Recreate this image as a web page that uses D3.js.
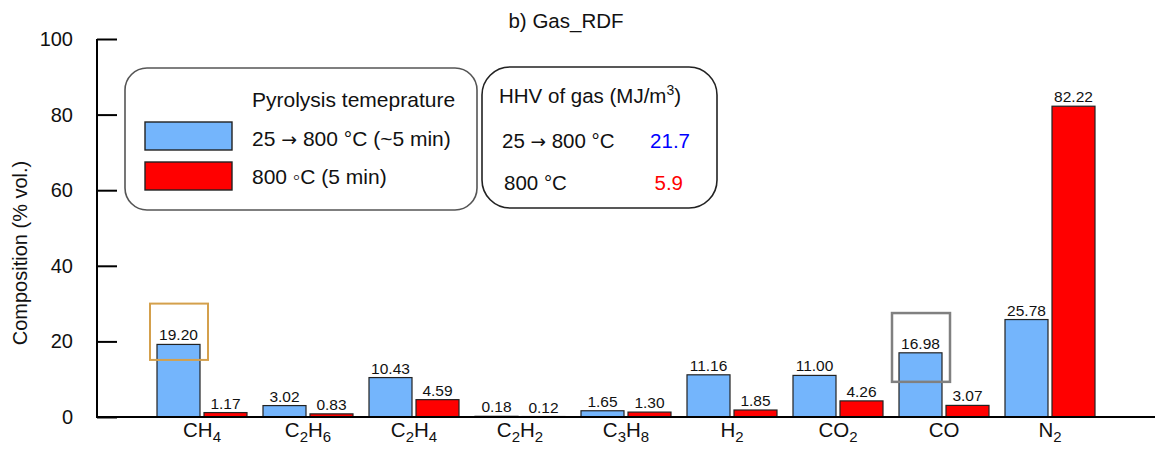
<!DOCTYPE html>
<html>
<head>
<meta charset="utf-8">
<script src="https://cdn.jsdelivr.net/npm/d3@7"></script>
<style>
  html, body { margin: 0; padding: 0; background: #fff; }
  svg { display: block; font-family: "Liberation Sans", Arial, sans-serif; }
</style>
</head>
<body>
<svg id="chart" width="1155" height="453"></svg>
<script>
// ---- data ----
const categories = ["CH4", "C2H6", "C2H4", "C2H2", "C3H8", "H2", "CO2", "CO", "N2"];
const categoryLabels = [
  [["CH", false], ["4", true]],
  [["C", false], ["2", true], ["H", false], ["6", true]],
  [["C", false], ["2", true], ["H", false], ["4", true]],
  [["C", false], ["2", true], ["H", false], ["2", true]],
  [["C", false], ["3", true], ["H", false], ["8", true]],
  [["H", false], ["2", true]],
  [["CO", false], ["2", true]],
  [["CO", false]],
  [["N", false], ["2", true]]
];
const rampValues = [19.20, 3.02, 10.43, 0.18, 1.65, 11.16, 11.00, 16.98, 25.78];   // 25 -> 800 °C
const isoValues  = [1.17, 0.83, 4.59, 0.12, 1.30, 1.85, 4.26, 3.07, 82.22];        // 800 °C
const seriesNames = ["25 → 800 °C (~5 min)", "800 ◦C (5 min)"];
const seriesColors = ["#74b5fc", "#ff0000"];
const yTicks = [0, 20, 40, 60, 80, 100];
const hhvLabels = ["25 → 800 °C", "800 °C"];
const hhvValues = ["21.7", "5.9"];
const hhvColors = ["#0000ff", "#ff0000"];

// ---- scales ----
const svg = d3.select("#chart");
const y = d3.scaleLinear().domain([0, 100]).range([417, 39]);
const x0 = d3.scaleBand().domain(categories).range([149, 1103]).paddingInner(0).paddingOuter(0);
const x1 = d3.scaleBand().domain(["ramp", "iso"]).range([0, x0.bandwidth()])
  .paddingInner(4 / 47).paddingOuter(8 / 47);

const data = categories.map((c, i) => ({ cat: c, vals: [
  { key: "ramp", v: rampValues[i], color: seriesColors[0] },
  { key: "iso", v: isoValues[i], color: seriesColors[1] }
]}));

// text with a proper arrow glyph
function richText(sel, str) {
  const parts = str.split("→");
  parts.forEach((p, i) => {
    if (i > 0) sel.append("tspan").attr("font-family", "DejaVu Sans, sans-serif")
      .attr("font-size", "0.9em").text("→");
    sel.append("tspan").text(p);
  });
}

// title
svg.append("text").attr("x", 566).attr("y", 28).attr("text-anchor", "middle")
  .attr("font-size", 20.5).attr("fill", "#111").text("b) Gas_RDF");

// bars
const g = svg.append("g").selectAll("g").data(data).join("g")
  .attr("transform", d => `translate(${x0(d.cat)},0)`);
g.selectAll("rect").data(d => d.vals).join("rect")
  .attr("x", d => x1(d.key)).attr("width", x1.bandwidth())
  .attr("y", d => y(d.v)).attr("height", d => y(0) - y(d.v))
  .attr("fill", d => d.color).attr("stroke", "#222").attr("stroke-width", 1.2);
g.selectAll("text").data(d => d.vals).join("text")
  .attr("x", d => x1(d.key) + x1.bandwidth() / 2).attr("y", d => y(d.v) - 4)
  .attr("text-anchor", "middle").attr("font-size", 15.5).attr("fill", "#111")
  .text(d => d.v.toFixed(2));

// y axis
const yAxis = d3.axisLeft(y).tickValues(yTicks).tickSize(-20).tickPadding(24);
const ya = svg.append("g").attr("transform", "translate(97,0)").call(yAxis);
ya.select(".domain").attr("stroke", "#000").attr("stroke-width", 2).attr("d", "M0,39V417");
ya.selectAll(".tick line").attr("stroke", "#000").attr("stroke-width", 2);
ya.selectAll(".tick text").attr("font-size", 20).attr("fill", "#111")
  .attr("font-family", "Liberation Sans, Arial, sans-serif");

// x axis
const xAxis = d3.axisBottom(x0).tickSize(0).tickFormat("");
const xa = svg.append("g").attr("transform", "translate(0,417)").call(xAxis);
xa.select(".domain").attr("stroke", "#000").attr("stroke-width", 2).attr("d", "M96,0H1155");
categories.forEach((c, i) => {
  const t = svg.append("text").attr("x", x0(c) + x0.bandwidth() / 2).attr("y", 442)
    .attr("text-anchor", "middle").attr("font-size", 20.5).attr("fill", "#111");
  categoryLabels[i].forEach(([s, sub]) => {
    if (sub) t.append("tspan").attr("font-size", 15).attr("dy", 5).text(s);
    else t.append("tspan").attr("dy", t.selectAll("tspan").size() ? -5 : 0).text(s);
  });
});

// y label
svg.append("text").attr("transform", "translate(27,253) rotate(-90)")
  .attr("text-anchor", "middle").attr("font-size", 20).attr("fill", "#111")
  .text("Composition (% vol.)");

// highlight boxes
function hbox(cat, top, bottom, color, sw) {
  const bx = x0(cat) + x1("ramp");
  svg.append("rect").attr("x", bx - 7).attr("y", y(top))
    .attr("width", x1.bandwidth() + 15).attr("height", y(bottom) - y(top))
    .attr("fill", "none").attr("stroke", color).attr("stroke-width", sw);
}
hbox("CH4", 30, 15.1, "#d4a04c", 2);
hbox("CO", 27.5, 9.3, "#808080", 2.5);

// legend box 1
svg.append("rect").attr("x", 125).attr("y", 68).attr("width", 352).attr("height", 142)
  .attr("rx", 22).attr("fill", "#fff").attr("stroke", "#555").attr("stroke-width", 1.6);
svg.append("text").attr("x", 252).attr("y", 107).attr("font-size", 21).attr("fill", "#111")
  .text("Pyrolysis temeprature");
seriesNames.forEach((n, i) => {
  svg.append("rect").attr("x", 145).attr("y", 122 + i * 40).attr("width", 87).attr("height", 28)
    .attr("fill", seriesColors[i]).attr("stroke", "#222").attr("stroke-width", 1.4);
  const t = svg.append("text").attr("x", 252).attr("y", 146 + i * 38).attr("font-size", 21)
    .attr("fill", "#111");
  richText(t, n);
});

// legend box 2 (HHV)
svg.append("rect").attr("x", 482).attr("y", 67).attr("width", 235).attr("height", 141)
  .attr("rx", 28).attr("fill", "#fff").attr("stroke", "#222").attr("stroke-width", 1.6);
const ht = svg.append("text").attr("x", 499).attr("y", 103).attr("font-size", 20.5).attr("fill", "#111");
ht.append("tspan").text("HHV of gas (MJ/m");
ht.append("tspan").attr("font-size", 14).attr("dy", -8).text("3");
ht.append("tspan").attr("dy", 8).text(")");
hhvLabels.forEach((l, i) => {
  const t = svg.append("text").attr("x", 502 + i * 2).attr("y", 148 + i * 42).attr("font-size", 20.5)
    .attr("fill", "#111");
  richText(t, l);
  svg.append("text").attr("x", 690 - i * 7).attr("y", 148 + i * 42).attr("font-size", 20.5)
    .attr("text-anchor", "end").attr("fill", hhvColors[i]).text(hhvValues[i]);
});
</script>
</body>
</html>
